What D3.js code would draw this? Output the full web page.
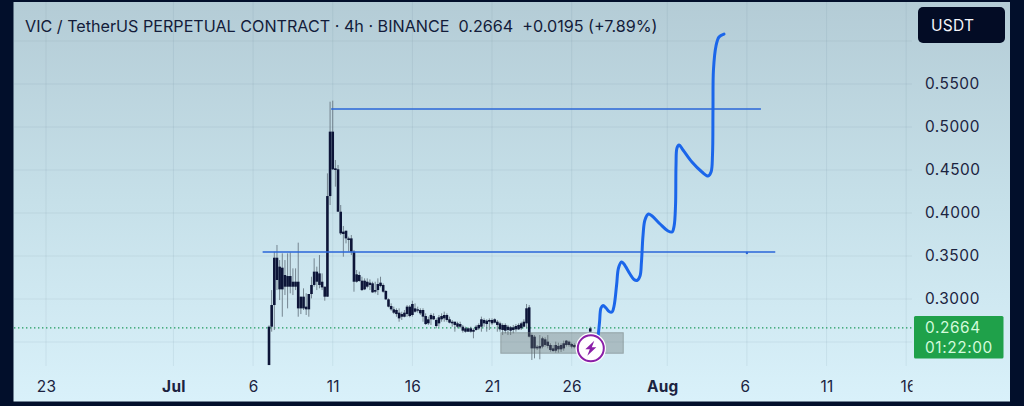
<!DOCTYPE html>
<html><head><meta charset="utf-8">
<script src="https://cdn.jsdelivr.net/npm/d3@7/dist/d3.min.js"></script>
<style>html,body{margin:0;padding:0;background:#020f2b;overflow:hidden}svg{display:block}text{font-family:Inter,"Liberation Sans",sans-serif}</style>
</head><body><svg id="c" width="1024" height="406"></svg>
<script>
const titleText="VIC / TetherUS PERPETUAL CONTRACT · 4h · BINANCE  0.2664  +0.0195 (+7.89%)";
const priceTicks=[0.55,0.50,0.45,0.40,0.35,0.30];
const gridPrices=[0.60,0.55,0.50,0.45,0.40,0.35,0.30,0.25];
const dateTicks=["06-23","07-01","07-06","07-11","07-16","07-21","07-26","08-01","08-06","08-11","08-16"];
const dateLabels=["23","Jul","6","11","16","21","26","Aug","6","11","16"];
const lastPrice=0.2664, countdown="01:22:00", quote="USDT";
const levelUpper=0.5209, levelLower=0.3547;
const levelUpperDays=[9.9,36.88], levelLowerDays=[5.6,37.78];
const boxDays=[20.55,28.24], boxPrices=[0.2608,0.2369];
const markerDay=26.2, markerPrice=0.2427;
const firstCandle="07-07";
const bodyTop=[.2678,.2930,.3480,.3480,.3376,.3364,.3279,.3267,.3267,.3201,.3201,.3201,.3027,.3027,.2911,.3058,.3163,.3318,.3318,.3298,.3201,.3143,.4197,.4946,.4946,.4519,.4508,.4015,.3783,.3794,.3705,.3705,.3550,.3287,.3279,.3213,.3213,.3201,.3190,.3182,.3104,.3174,.3190,.3163,.3093,.2996,.2918,.2880,.2872,.2841,.2825,.2841,.2911,.2911,.2942,.2891,.2880,.2872,.2872,.2802,.2764,.2814,.2802,.2756,.2787,.2802,.2814,.2814,.2764,.2736,.2736,.2717,.2709,.2678,.2659,.2659,.2659,.2640,.2678,.2698,.2764,.2756,.2748,.2756,.2756,.2764,.2736,.2717,.2698,.2698,.2678,.2671,.2671,.2686,.2698,.2717,.2736,.2892,.2903,.2581,.2562,.2446,.2454,.2543,.2531,.2504,.2465,.2426,.2465,.2454,.2465,.2485,.2516,.2504,.2477,.2465,.2470,.2465,.2480,.2500,.2560,.2659];
const bodyBottom=[.2232,.2678,.2930,.3221,.3112,.3112,.3143,.3143,.3143,.3143,.3143,.2891,.2891,.2891,.2880,.2880,.3058,.3163,.3201,.3163,.3135,.3027,.3027,.4197,.4508,.4500,.4015,.3763,.3756,.3705,.3686,.3550,.3201,.3201,.3209,.3104,.3112,.3143,.3163,.3077,.3085,.3104,.3151,.3085,.2996,.2911,.2880,.2841,.2825,.2775,.2794,.2794,.2825,.2802,.2814,.2852,.2864,.2833,.2795,.2709,.2717,.2764,.2764,.2686,.2717,.2764,.2775,.2756,.2725,.2717,.2698,.2678,.2678,.2632,.2620,.2620,.2620,.2620,.2640,.2659,.2678,.2717,.2709,.2736,.2717,.2725,.2698,.2647,.2640,.2632,.2640,.2632,.2640,.2647,.2647,.2659,.2678,.2717,.2562,.2426,.2426,.2426,.2426,.2446,.2465,.2454,.2407,.2395,.2399,.2415,.2415,.2426,.2465,.2465,.2446,.2440,.2445,.2440,.2450,.2460,.2490,.2620];
const wickHigh=[.2694,.3104,.3550,.3628,.3453,.3531,.3453,.3531,.3542,.3356,.3356,.3655,.3027,.3124,.3066,.3058,.3259,.3473,.3376,.3511,.3298,.3143,.4461,.5294,.5306,.4616,.4558,.4093,.3849,.3794,.3725,.3744,.3570,.3337,.3318,.3259,.3240,.3240,.3228,.3201,.3201,.3240,.3259,.3182,.3104,.3007,.2949,.2911,.2891,.2891,.2852,.2872,.2930,.2930,.2980,.2949,.2911,.2892,.2892,.2833,.2795,.2833,.2833,.2775,.2814,.2833,.2853,.2833,.2795,.2756,.2736,.2736,.2736,.2698,.2678,.2671,.2678,.2659,.2698,.2717,.2795,.2775,.2764,.2775,.2775,.2775,.2756,.2736,.2717,.2717,.2698,.2686,.2698,.2709,.2717,.2736,.2764,.2942,.2930,.2601,.2581,.2465,.2581,.2562,.2554,.2581,.2485,.2465,.2504,.2492,.2485,.2516,.2523,.2516,.2492,.2485,.2490,.2485,.2500,.2530,.2590,.2678];
const wickLow=[.2232,.2620,.2639,.3104,.2988,.2794,.3046,.2891,.3066,.3046,.3104,.2794,.2825,.2872,.2814,.2794,.3007,.3143,.3104,.3124,.3104,.2980,.3027,.4093,.4500,.4306,.4015,.3744,.3492,.3647,.3550,.3511,.3085,.3190,.3201,.3093,.3104,.3124,.3104,.3073,.3066,.3046,.3135,.3073,.2988,.2903,.2864,.2825,.2794,.2736,.2756,.2787,.2794,.2787,.2794,.2841,.2841,.2814,.2736,.2698,.2698,.2698,.2756,.2659,.2678,.2736,.2736,.2736,.2717,.2678,.2620,.2659,.2659,.2609,.2609,.2620,.2609,.2543,.2632,.2640,.2620,.2678,.2620,.2640,.2698,.2717,.2620,.2620,.2581,.2601,.2581,.2581,.2601,.2620,.2640,.2640,.2671,.2659,.2554,.2291,.2310,.2407,.2299,.2426,.2446,.2426,.2388,.2388,.2376,.2376,.2384,.2399,.2446,.2446,.2426,.2426,.2430,.2430,.2435,.2445,.2470,.2620];
const pathDays=[26.67,26.75,26.84,26.97,27.16,27.35,27.53,27.66,27.82,27.94,28.13,28.28,28.66,28.91,29.10,29.29,29.38,29.48,29.60,29.82,30.05,30.55,31.05,31.30,31.43,31.52,31.55,31.61,31.74,31.99,32.55,33.18,33.56,33.75,33.84,33.87,33.90,34.06,34.25,34.56];
const pathPrices=[.2581,.2733,.2895,.2924,.2895,.2855,.2849,.2919,.3163,.3360,.3430,.3407,.3291,.3227,.3215,.3267,.3430,.3744,.3919,.3988,.3965,.3872,.3791,.3779,.3849,.4093,.4558,.4756,.4791,.4733,.4593,.4477,.4430,.4477,.4674,.5198,.5663,.5942,.6047,.6081];

const date=s=>new Date(`2024-${s}T00:00:00Z`);
const dayOf=d=>new Date(date("07-01").getTime()+d*864e5);
const x=d3.scaleUtc().domain([date("06-23"),date("08-16")]).range([46,906.2]);
const y=d3.scaleLinear().domain([0.55,0.30]).range([84,299]);
const svg=d3.select("#c");
const defs=svg.append("defs");
const g=defs.append("linearGradient").attr("id","bg").attr("x1",0).attr("x2",0).attr("y1",0).attr("y2",1);
g.append("stop").attr("offset",0).attr("stop-color","#b4ccd6");
g.append("stop").attr("offset",0.5).attr("stop-color","#c6e0e9");
g.append("stop").attr("offset",1).attr("stop-color","#d9f1fa");
defs.append("clipPath").attr("id","labelClip").append("rect").attr("x",0).attr("y",-40).attr("width",912.5).attr("height",80);
svg.append("rect").attr("x",13.5).attr("y",2).attr("width",996.5).attr("height",399.5).attr("fill","url(#bg)");

const gridColor="rgba(70,100,120,0.09)";
svg.append("g").selectAll("line").data(gridPrices).join("line")
 .attr("x1",14).attr("x2",912).attr("y1",d=>y(d)).attr("y2",d=>y(d)).attr("stroke",gridColor);
svg.append("g").selectAll("line").data(dateTicks).join("line")
 .attr("x1",d=>x(date(d))).attr("x2",d=>x(date(d))).attr("y1",2).attr("y2",366).attr("stroke",gridColor);

// axes
const xAxis=d3.axisBottom(x).tickValues(dateTicks.map(date)).tickSize(0).tickPadding(0)
 .tickFormat((d,i)=>dateLabels[i]);
const xg=svg.append("g").attr("transform","translate(0,391.5)").attr("clip-path","url(#labelClip)").call(xAxis);
xg.select(".domain").remove();
xg.selectAll("text").attr("y",0).attr("dy",0).attr("font-size",15.4).attr("letter-spacing",0.3).attr("fill","#1b2340")
 .attr("font-weight",(d,i)=>dateLabels[i]==="Jul"||dateLabels[i]==="Aug"?700:400)
 .attr("dx",(d,i)=>dateLabels[i]==="Aug"?-5:(dateLabels[i]==="6"&&i>4?-2:(i===10?2:0)));
const yAxis=d3.axisRight(y).tickValues(priceTicks).tickSize(0).tickPadding(0).tickFormat(d3.format(".4f"));
const yg=svg.append("g").attr("transform","translate(925,0)").call(yAxis);
yg.select(".domain").remove();
yg.selectAll("text").attr("x",0).attr("font-size",15.4).attr("letter-spacing",0.5).attr("fill","#1b2340");

// last-price dotted line
svg.append("line").attr("x1",14).attr("x2",914).attr("y1",y(lastPrice)).attr("y2",y(lastPrice))
 .attr("stroke","#1f9a5c").attr("stroke-width",1.2).attr("stroke-dasharray","1.4 2.6");

// candles
const t0=date(firstCandle).getTime();
const cx=i=>x(new Date(t0+i*4*36e5));
const idx=d3.range(bodyTop.length);
const wickG=svg.append("g");
wickG.selectAll("line").data(idx).join("line")
 .attr("x1",cx).attr("x2",cx).attr("y1",i=>y(wickHigh[i])).attr("y2",i=>y(wickLow[i]))
 .attr("stroke","#5f6d78").attr("stroke-opacity",0.8).attr("stroke-width",1);
svg.append("g").selectAll("rect").data(idx).join("rect")
 .attr("x",i=>cx(i)-1.3).attr("width",2.6).attr("y",i=>y(bodyTop[i]))
 .attr("height",i=>Math.max(1.2,y(bodyBottom[i])-y(bodyTop[i]))).attr("fill","#0d1538");

// box
svg.append("rect").attr("x",x(dayOf(boxDays[0]))).attr("width",x(dayOf(boxDays[1]))-x(dayOf(boxDays[0])))
 .attr("y",y(boxPrices[0])).attr("height",y(boxPrices[1])-y(boxPrices[0]))
 .attr("fill","rgba(105,112,112,0.38)").attr("stroke","rgba(110,120,120,0.5)").attr("stroke-width",1);

// levels
const level=(p,days)=>svg.append("line").attr("x1",x(dayOf(days[0]))).attr("x2",x(dayOf(days[1])))
 .attr("y1",y(p)).attr("y2",y(p)).attr("stroke","#2a66d8").attr("stroke-width",1.4);
level(levelUpper,levelUpperDays); level(levelLower,levelLowerDays);
svg.append("circle").attr("cx",x(dayOf(36.0))).attr("cy",y(levelLower)+1).attr("r",1.2).attr("fill","#2a66d8");

// projected path
const line=d3.line().x((d,i)=>x(dayOf(pathDays[i]))).y((d,i)=>y(pathPrices[i])).curve(d3.curveCatmullRom.alpha(0.5));
svg.append("path").attr("d",line(pathDays)).attr("fill","none").attr("stroke","#1b66ea").attr("stroke-width",3).attr("stroke-linecap","round");

// marker
const mx=x(dayOf(markerDay)), my=y(markerPrice);
const m=svg.append("g").attr("transform",`translate(${mx},${my})`);
m.append("circle").attr("r",15.2).attr("fill","#fff");
m.append("circle").attr("r",13).attr("fill","#fff").attr("stroke","#8a1fa8").attr("stroke-width",2);
m.append("path").attr("d","M3.5,-7.5 L-5.5,1 L-1,1 L-3.5,7.5 L5.5,-1 L1,-1 Z").attr("fill","#8a1fa8");

// title
svg.append("text").attr("x",25).attr("y",32).attr("font-size",16.15).attr("fill","#131c3a").attr("xml:space","preserve").style("white-space","pre").text(titleText);

// quote button
svg.append("rect").attr("x",918).attr("y",7).attr("width",87).attr("height",36).attr("rx",5).attr("fill","#030c25");
svg.append("text").attr("x",931).attr("y",30.5).attr("font-size",15.5).attr("letter-spacing",0.3).attr("fill","#f4f6fa").text(quote);

// price tag
svg.append("rect").attr("x",914).attr("y",316).attr("width",89.5).attr("height",42.5).attr("rx",1.5).attr("fill","#1fa14a");
svg.append("text").attr("x",925).attr("y",333).attr("font-size",15.4).attr("letter-spacing",0.6).attr("fill","#d3fbdc").text(d3.format(".4f")(lastPrice));
svg.append("text").attr("x",925).attr("y",353).attr("font-size",15.4).attr("letter-spacing",0.6).attr("fill","#d3fbdc").text(countdown);
</script></body></html>
